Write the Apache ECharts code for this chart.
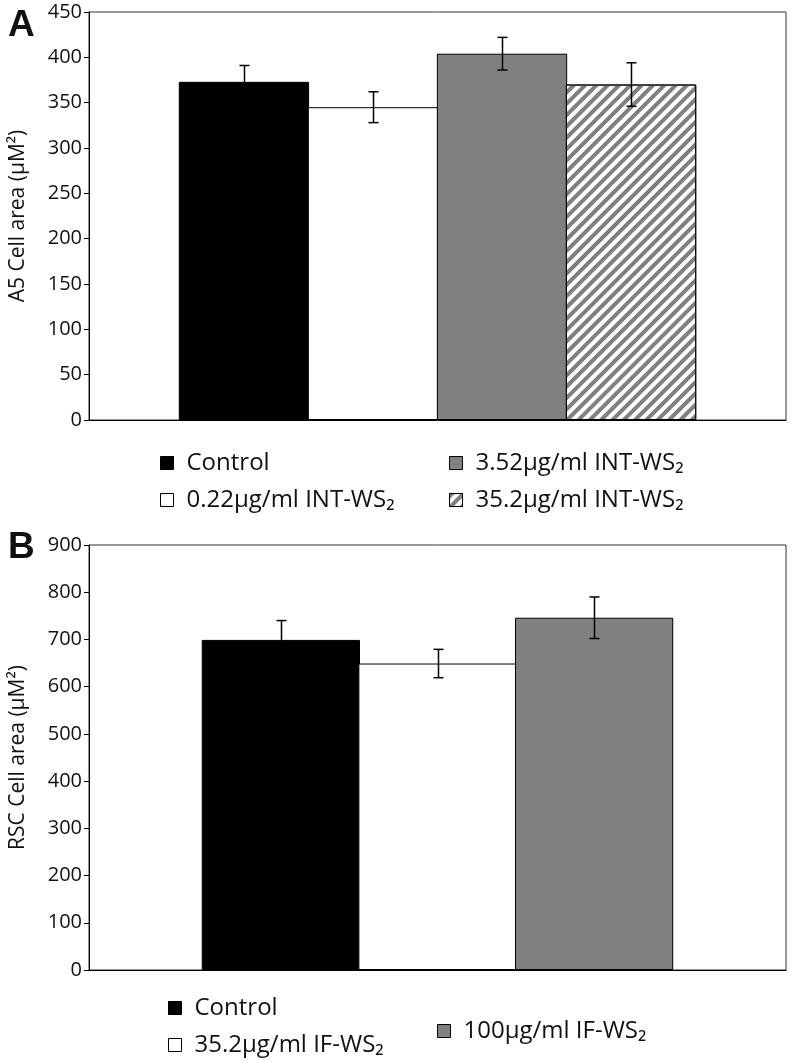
<!DOCTYPE html>
<html>
<head>
<meta charset="utf-8">
<script src="https://cdn.jsdelivr.net/npm/echarts@6/dist/echarts.min.js"></script>
<style>
html,body{margin:0;padding:0;background:#fff;}
#chart{width:792px;height:1062px;}
</style>
</head>
<body>
<div id="chart"></div>
<script>
// ---- Panel A data ----
const aNames = ['Control', '0.22µg/ml INT-WS₂', '3.52µg/ml INT-WS₂', '35.2µg/ml INT-WS₂'];
const aValues = [373, 345, 404, 370];
const aErrors = [18, 17, 18, 24];
const aTicks = [0, 50, 100, 150, 200, 250, 300, 350, 400, 450];
// ---- Panel B data ----
const bNames = ['Control', '35.2µg/ml IF-WS₂', '100µg/ml IF-WS₂'];
const bValues = [699, 649, 746];
const bErrors = [41, 30, 44];
const bTicks = [0, 100, 200, 300, 400, 500, 600, 700, 800, 900];

const FONT = '"Open Sans", "DejaVu Sans", sans-serif';
const aRatio = 0.187, bRatio = 0.227;
const fills = ['#000000', '#ffffff', '#808080', '#ffffff'];
const hatch = {symbol: 'rect', symbolSize: 1, dashArrayX: [1, 0], dashArrayY: [4, 4], rotation: -Math.PI / 4, color: '#7f7f7f'};

function errRender(ratio) {
  return function (params, api) {
    const cat = api.value(0), val = api.value(1), err = api.value(2), idx = api.value(3), n = api.value(4);
    const band = api.size([1, 0])[0];
    const x = Math.round(api.coord([cat, val])[0] + (idx - (n - 1) / 2) * band * ratio) + 0.5;
    const top = api.coord([cat, val + err])[1];
    const bot = api.coord([cat, val - err])[1];
    const c = 5;
    const st = {stroke: '#000', lineWidth: 1.5};
    return {type: 'group', children: [
      {type: 'line', shape: {x1: x, y1: top, x2: x, y2: bot}, style: st},
      {type: 'line', shape: {x1: x - c, y1: top, x2: x + c, y2: top}, style: st},
      {type: 'line', shape: {x1: x - c, y1: bot, x2: x + c, y2: bot}, style: st}
    ]};
  };
}

const series = [];
aNames.forEach((nm, i) => {
  const s = {
    name: nm, type: 'bar', xAxisIndex: 0, yAxisIndex: 0,
    data: [aValues[i]], barWidth: (aRatio * 100) + '%', barGap: '-1%',
    itemStyle: {color: fills[i], borderColor: '#000', borderWidth: 1},
    silent: true
  };
  if (i === 3) s.itemStyle.decal = hatch;
  series.push(s);
});
bNames.forEach((nm, i) => {
  series.push({
    name: nm, type: 'bar', xAxisIndex: 1, yAxisIndex: 1,
    data: [bValues[i]], barWidth: (bRatio * 100) + '%', barGap: '-1%',
    itemStyle: {color: fills[i], borderColor: '#000', borderWidth: 1},
    silent: true
  });
});
series.push({
  type: 'custom', xAxisIndex: 0, yAxisIndex: 0, z: 10, silent: true,
  renderItem: errRender(aRatio * 0.99),
  data: aValues.map((v, i) => [0, v, aErrors[i], i, aValues.length])
});
series.push({
  type: 'custom', xAxisIndex: 1, yAxisIndex: 1, z: 10, silent: true,
  renderItem: errRender(bRatio * 0.99),
  data: bValues.map((v, i) => [0, v, bErrors[i], i, bValues.length])
});

function yAx(gi, ticks, name) {
  return {
    type: 'value', gridIndex: gi, min: ticks[0], max: ticks[ticks.length - 1],
    interval: ticks[1] - ticks[0],
    name: name, nameLocation: 'middle', nameGap: 60, nameRotate: 90,
    nameTextStyle: {fontFamily: FONT, fontSize: 21, color: '#111'},
    axisLine: {show: true, lineStyle: {color: '#000', width: 1}},
    axisTick: {show: true, length: 5, lineStyle: {color: '#000'}},
    axisLabel: {fontFamily: FONT, fontSize: 20, color: '#111', margin: 7},
    splitLine: {show: false}
  };
}
function xAx(gi) {
  return {
    type: 'category', gridIndex: gi, data: [''],
    axisLine: {show: true, lineStyle: {color: '#000', width: 1}},
    axisTick: {show: false}, axisLabel: {show: false}, splitLine: {show: false}
  };
}
const legText = {fontFamily: FONT, fontSize: 24, color: '#111', lineHeight: 24, padding: [0, 0, 0, 8]};
function leg(data, left, top) {
  return {
    data: data, orient: 'vertical', left: left, top: top, itemWidth: 13, itemHeight: 13,
    itemGap: 13, selectedMode: false, icon: 'rect', textStyle: legText,
    itemStyle: {borderColor: '#000', borderWidth: 1}
  };
}

const option = {
  animation: false,
  backgroundColor: '#fff',
  title: [
    {text: 'A', left: 3, top: 2, textStyle: {fontFamily: '"Liberation Sans", Arial, sans-serif', fontSize: 37, fontWeight: 'bold', color: '#111'}},
    {text: 'B', left: 3, top: 524, textStyle: {fontFamily: '"Liberation Sans", Arial, sans-serif', fontSize: 37, fontWeight: 'bold', color: '#111'}}
  ],
  grid: [
    {left: 88, right: 6, top: 12, height: 408, show: true, borderColor: '#333', borderWidth: 1, backgroundColor: 'transparent'},
    {left: 88, right: 6, top: 545, height: 425, show: true, borderColor: '#333', borderWidth: 1, backgroundColor: 'transparent'}
  ],
  xAxis: [xAx(0), xAx(1)],
  yAxis: [yAx(0, aTicks, 'A5 Cell area (µM²)'), yAx(1, bTicks, 'RSC Cell area (µM²)')],
  legend: [
    leg([aNames[0], aNames[1]], 155, 446),
    leg([aNames[2], aNames[3]], 444, 446),
    leg([bNames[0], bNames[1]], 163, 991),
    leg([bNames[2]], 432, 1014)
  ],
  series: series
};

const chart = echarts.init(document.getElementById('chart'), null, {renderer: 'canvas'});
chart.setOption(option);
</script>
</body>
</html>
